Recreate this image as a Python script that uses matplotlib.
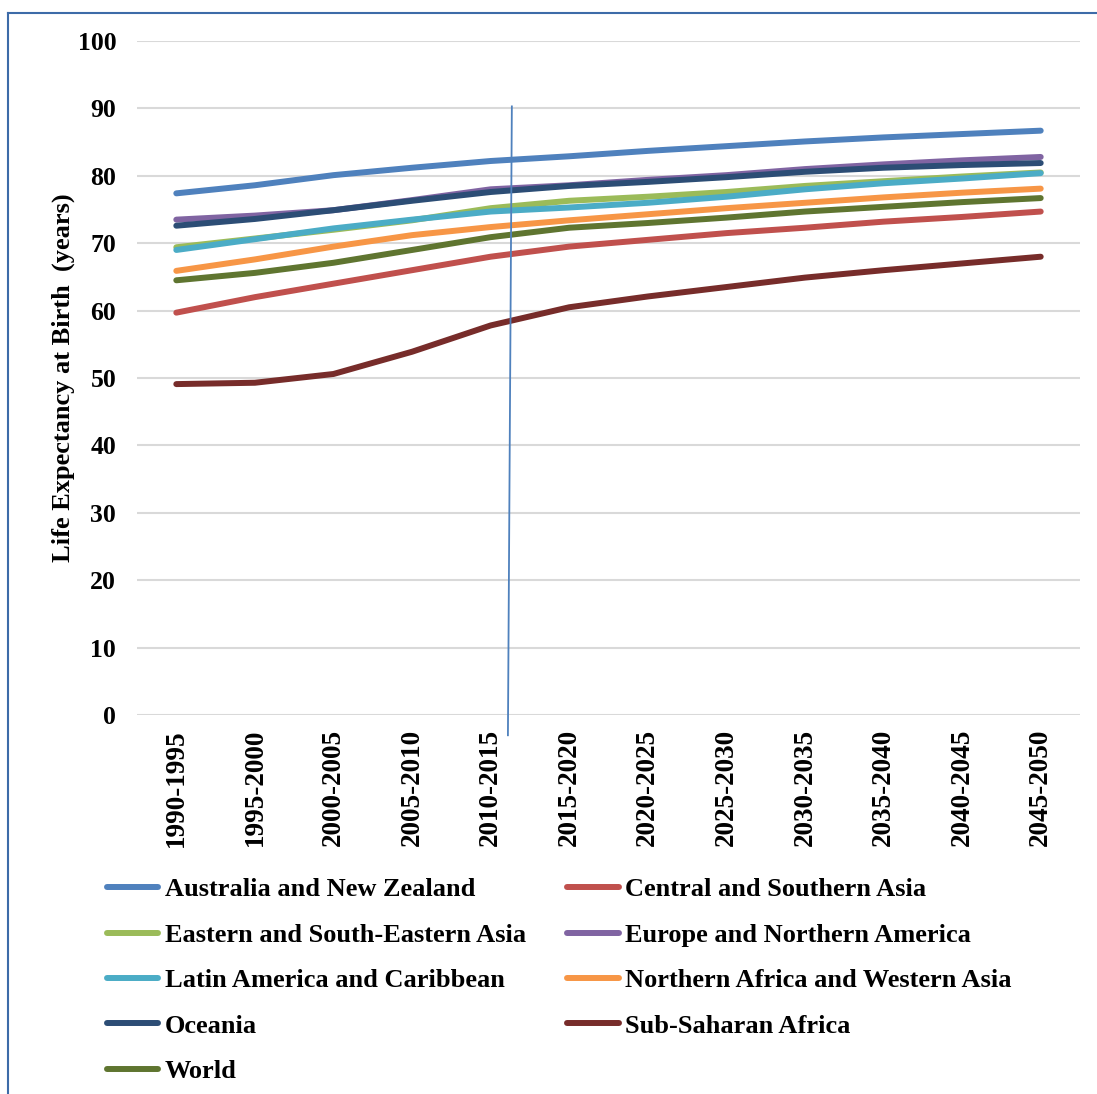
import matplotlib
matplotlib.use("Agg")
import matplotlib.pyplot as plt

# five-year periods
periods = ["1990-1995", "1995-2000", "2000-2005", "2005-2010", "2010-2015", "2015-2020",
           "2020-2025", "2025-2030", "2030-2035", "2035-2040", "2040-2045", "2045-2050"]

# life expectancy at birth (years) by region
australia_nz = [77.4, 78.6, 80.1, 81.2, 82.2, 82.9, 83.7, 84.4, 85.1, 85.7, 86.2, 86.7]
central_south_asia = [59.7, 62.0, 64.0, 66.0, 68.0, 69.5, 70.5, 71.5, 72.3, 73.2, 73.9, 74.7]
east_se_asia = [69.4, 70.7, 72.0, 73.4, 75.2, 76.3, 76.9, 77.6, 78.5, 79.2, 79.9, 80.5]
europe_na = [73.5, 74.1, 74.9, 76.4, 78.0, 78.6, 79.4, 80.1, 81.0, 81.7, 82.3, 82.8]
latin_america = [69.0, 70.6, 72.2, 73.5, 74.7, 75.3, 76.0, 76.9, 78.0, 78.9, 79.6, 80.4]
n_africa_w_asia = [65.9, 67.6, 69.5, 71.2, 72.4, 73.4, 74.3, 75.2, 76.0, 76.8, 77.5, 78.1]
oceania = [72.6, 73.6, 74.9, 76.3, 77.6, 78.5, 79.1, 79.8, 80.6, 81.2, 81.6, 81.9]
sub_saharan = [49.1, 49.3, 50.6, 53.9, 57.8, 60.5, 62.1, 63.5, 64.9, 66.0, 67.0, 68.0]
world = [64.5, 65.6, 67.1, 69.0, 70.9, 72.3, 73.0, 73.8, 74.7, 75.4, 76.1, 76.7]

plt.rcParams["font.family"] = ["Liberation Serif", "DejaVu Serif"]
plt.rcParams["font.weight"] = "bold"
plt.rcParams["axes.labelweight"] = "bold"

fig = plt.figure(figsize=(10.97, 10.94), dpi=100)
ax = fig.add_axes([0.1249, 0.3464, 0.8596, 0.6161])

x = list(range(len(periods)))
series = [
    ("Australia and New Zealand", australia_nz, "#4F81BD"),
    ("Central and Southern Asia", central_south_asia, "#C0504D"),
    ("Eastern and South-Eastern Asia", east_se_asia, "#9BBB59"),
    ("Europe and Northern America", europe_na, "#8064A2"),
    ("Latin America and Caribbean", latin_america, "#4BACC6"),
    ("Northern Africa and Western Asia", n_africa_w_asia, "#F79646"),
    ("Oceania", oceania, "#2C4D75"),
    ("Sub-Saharan Africa", sub_saharan, "#772C2A"),
    ("World", world, "#5F7530"),
]

lines = {}
for name, vals, color in series:
    ln, = ax.plot(x, vals, color=color, lw=4.3, solid_capstyle="round",
                  solid_joinstyle="round", label=name)
    lines[name] = ln

ax.set_xlim(-0.5, len(periods) - 0.5)
ax.set_ylim(0, 100)
ax.set_yticks(range(0, 101, 10))
ax.set_xticks(x)
ax.set_xticklabels(periods, rotation=90)
ax.tick_params(axis="x", length=0, labelsize=19.5, pad=10)
ax.tick_params(axis="y", length=0, labelsize=18.5, pad=15)
ax.grid(axis="y", color="#D9D9D9", lw=1.5)
ax.set_axisbelow(True)
for s in ax.spines.values():
    s.set_visible(False)

ax.set_ylabel("Life Expectancy at Birth  (years)", fontsize=19, labelpad=2)

# divider between estimates and projections
ax.plot([4.27, 4.22], [90.3, -3.0], color="#4F81BD", lw=1.3, clip_on=False)

# legend in two columns, filled row by row
order = ["Australia and New Zealand", "Eastern and South-Eastern Asia",
         "Latin America and Caribbean", "Oceania", "World",
         "Central and Southern Asia", "Europe and Northern America",
         "Northern Africa and Western Asia", "Sub-Saharan Africa"]
fig.legend([lines[n] for n in order], order, ncol=2, loc="upper left",
           bbox_to_anchor=(0.0855, 0.2095), frameon=False, fontsize=19,
           handlelength=1.95, handletextpad=0.23, labelspacing=0.83,
           columnspacing=1.58, borderpad=0)

# outer frame
fig.add_artist(plt.Line2D([0.0075, 0.0075], [0.0, 0.9885], color="#3D6BA8", lw=1.5))
fig.add_artist(plt.Line2D([0.0075, 1.0], [0.9885, 0.9885], color="#3D6BA8", lw=1.5))

fig.savefig("out.png", dpi=100)
